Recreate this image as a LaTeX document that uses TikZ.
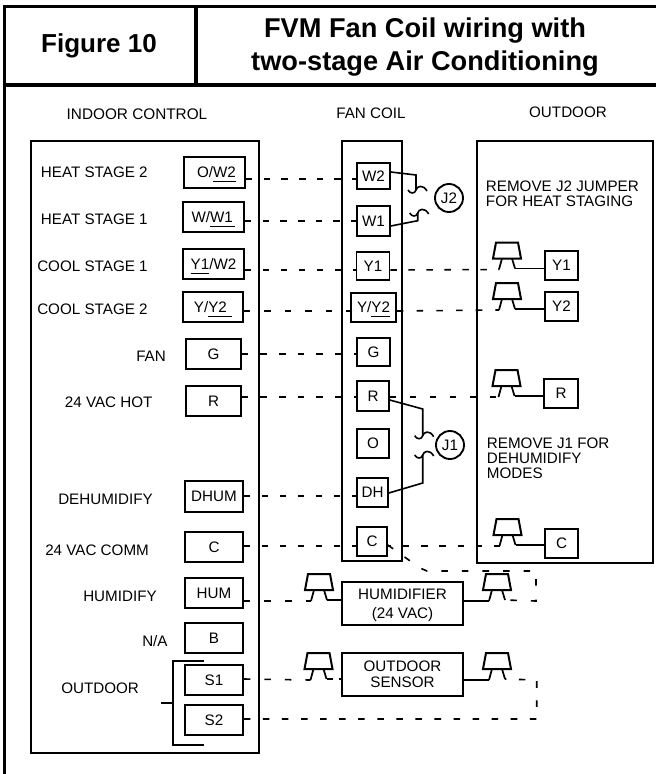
\documentclass[tikz,border=0pt]{standalone}
\usepackage{fontspec}
\setmainfont{Liberation Sans}
\newcommand{\wul}[1]{\underline{#1\rule[-1.5pt]{0pt}{1pt}}}
\tikzset{
    every node/.style={font=\fontsize{11.4pt}{11.4pt}\selectfont, inner sep=0pt},
    frameline/.style={line width=2.7pt},
    unitbox/.style={draw, line width=1.2pt},
    termbox/.style={draw, line width=1.2pt, text height=8pt, text depth=0pt},
    lbl/.style={anchor=west},
    jcirc/.style={draw, circle, line width=1.4pt, minimum size=21pt},
    solidwire/.style={line width=1.2pt},
    wire/.style={line width=1.2pt, dash pattern=on 4.9pt off #1pt},
    relay/.pic={
        \draw[line width=1.5pt] (-11,-27) -- (11,-27) -- (14,-11) -- (-14,-11) -- cycle;
        \draw[line width=1.3pt] (-5,-11) -- (-8,0) coordinate (-l);
        \draw[line width=1.3pt] (5,-11) -- (8,-1) coordinate (-r);
    },
    jhook/.pic={
        \draw[line width=1.2pt] (-8,0) .. controls (-6,4) and (-1,4) .. (0,0) .. controls (1,-4) and (7,-6) .. (11,1);
    },
}
\begin{document}
\begin{tikzpicture}[x=0.75pt,y=-0.75pt]
        \useasboundingbox (0,0) rectangle (656,774);
        \draw[frameline] (656,6.5) -- (4.5,6.5) -- (4.5,774);
        \draw[frameline] (4.5,85) -- (656,85);
        \draw[frameline] (196,6.5) -- (196,85);
        \node[font=\fontsize{19.5pt}{19.5pt}\selectfont\bfseries] (figno) at (99,46) {Figure 10};
        \node[font=\fontsize{20.4pt}{24.5pt}\selectfont\bfseries, align=center] (figtitle) at (425,47) {FVM Fan Coil wiring with\\two-stage Air Conditioning};
        \node[font=\fontsize{11.5pt}{11.5pt}\selectfont] (indoorhead) at (137,114) {INDOOR CONTROL};
        \node (fanhead) at (371,113) {FAN COIL};
        \node (outhead) at (568,112) {OUTDOOR};
        \node[unitbox, minimum width=171pt, minimum height=459pt] (indoor) at (145,447) {};
        \node[unitbox, minimum width=45pt, minimum height=315pt] (fancoil) at (372,351) {};
        \node[unitbox, minimum width=132pt, minimum height=316.5pt] (outdoor) at (565,352) {};
        \foreach \n/\t/\x/\y/\w/\h in {
            iow/{\hspace{3pt}O/\wul{W2}}/214.5/172.5/61/31, iww/{W/\wul{W1\,}}/213.5/217/61/30,
            iyw/{\wul{Y1}/W2}/213.5/264/61/30, iyy/{Y/\wul{Y2\,\,}}/213/307/60/30,
            ig/G/213.5/354/55/30, ir/R/213.5/401/55/30, idh/DHUM/214/496.5/58/31,
            ic/C/214/547/58/30, ihu/HUM/214/593/58/30, ib/B/214/638/58/30,
            is1/S1/214/680/58/30, is2/S2/214/720/58/30,
            fw2/W2/373.5/176/33/26, fw1/W1/373.5/221/33/30, fy1/Y1/373/266/33/28,
            fyy/{Y/\wul{Y2}}/373.5/307.5/45/29, fg/G/373.5/352/33/28, fr/R/373/396/32/30,
            fo/O/373/443.5/32/29, fdh/DH/372.5/492.5/31/29, fc/C/372/541.5/30/29,
            oy1/Y1/561.5/265.5/33/29, oy2/Y2/561.5/306.5/33/29,
            orr/R/561/393.5/34/29, occ/C/561.5/543.5/33/29} {
            \node[termbox, minimum width=\w*0.75pt, minimum height=\h*0.75pt] (\n) at (\x,\y) {\t};
        }
        \foreach \x/\y/\t in {40.7/172.7/HEAT STAGE 2, 40.7/219.7/HEAT STAGE 1,
            37/266.7/COOL STAGE 1, 37/309/COOL STAGE 2, 136/356/FAN, 64.7/402/24 VAC HOT,
            58/499/DEHUMIDIFY, 45/550/24 VAC COMM, 83/596/HUMIDIFY, 142/641/{N/A}, 61/688/OUTDOOR} {
            \node[lbl] at (\x,\y) {\t};
        }
        \draw[line width=0.9pt] (204,661) -- (173,661) -- (173,745) -- (204,745);
        \draw[line width=0.9pt] (161,703) -- (173,703);
        \node[lbl, align=left, font=\fontsize{11.4pt}{11pt}\selectfont] (j2note) at (485.7,193.5) {REMOVE J2 JUMPER\\FOR HEAT STAGING};
        \node[lbl, align=left, font=\fontsize{11.4pt}{11.4pt}\selectfont] (j1note) at (486.7,458) {REMOVE J1 FOR\\DEHUMIDIFY\\MODES};
        \node[unitbox, minimum width=90.75pt, minimum height=32.25pt, align=center, font=\fontsize{11.4pt}{14.2pt}\selectfont] (humid) at (402.5,603.5) {\rule{0pt}{11pt}HUMIDIFIER\\(24 VAC)};
        \node[unitbox, minimum width=90.75pt, minimum height=32.25pt, align=center, font=\fontsize{11.4pt}{12pt}\selectfont] (sensor) at (402.5,674.5) {OUTDOOR\\SENSOR};
        \node[jcirc] (j2) at (449,198) {J2};
        \node[jcirc] (j1) at (450,445) {J1};
        \pic (ry1) at (507,269.5) {relay};
        \pic (ry2) at (507,310) {relay};
        \pic (rrr) at (506.5,397) {relay};
        \pic (rcc) at (507.5,546) {relay};
        \pic (rh1) at (319,601) {relay};
        \pic (rh2) at (497,601) {relay};
        \pic (rs1) at (318.5,680) {relay};
        \pic (rs2) at (497,680) {relay};
        \foreach \a/\b/\y/\p in {iow/fw2/179/8.4, iww/fw1/221/8.4, iyw/fy1/270/8.6,
            iyy/fyy/311/10.5, ig/fg/354/9.1, ir/fr/397/9.1, idh/fdh/496/8.6, ic/fc/546/8.6} {
            \draw[wire=\p] (\a.east |- 0,\y) -- (\b.west |- 0,\y);
        }
        \draw[wire=8.6] (fy1.east |- 0,270) -- (ry1-l);
        \draw[wire=9.9] (fyy.east |- 0,311) -- (ry2-l);
        \draw[wire=10.1] (fr.east |- 0,397) -- (rrr-l);
        \draw[wire=8.8, dash phase=2.5pt] (fc.east |- 0,546) -- (rcc-l);
        \foreach \a/\b in {ry1/oy1, ry2/oy2, rrr/orr, rcc/occ} {
            \draw[solidwire] (\a-r) -- (\b.west |- \a-r);
        }
        \draw[wire=10.6] (ihu.east |- 0,601) -- (rh1-l);
        \draw[wire=10.5] (is1.east |- 0,679) -- (rs1-l);
        \draw[solidwire] (rh1-r) -- (humid.west |- rh1-r);
        \draw[solidwire] (humid.east |- rh2-l) -- (rh2-l);
        \draw[solidwire] (sensor.east |- rs2-l) -- (rs2-l);
        \draw[wire=4.1] (rs1-r) -- (sensor.west |- rs1-r);
        \draw[wire=9.4] (is2.east |- 0,719) -- (536.7,719) -- (536.7,680) -- (rs2-r);
        \draw[wire=10.5] (fc.east |- 0,545) -- (420,568) -- (427,571) -- (536,571) -- (536,601) -- (rh2-r);
        \draw[solidwire] (fw2.east |- 0,172) -- (416,175) -- (416,190) pic {jhook};
        \draw[solidwire] (fw1.east |- 0,226) -- (417.7,220.7) -- (417.7,213) pic {jhook};
        \draw[solidwire] (fr.east |- 0,400) -- (422.7,409) -- (422.7,435.7) pic {jhook};
        \draw[solidwire] (fdh.east |- 0,493) -- (422.7,483) -- (422.7,455) pic {jhook};
\end{tikzpicture}
\end{document}
